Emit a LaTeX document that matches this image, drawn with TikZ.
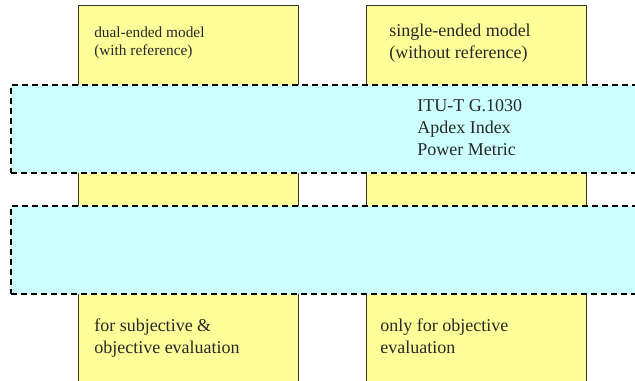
\documentclass[tikz,border=0pt]{standalone}
\usepackage{fontspec}
\setmainfont{Liberation Serif}
\definecolor{modelyellow}{RGB}{255,255,153}
\definecolor{bandcyan}{RGB}{204,255,255}
\definecolor{inkgray}{RGB}{40,40,40}
\tikzset{
  column/.style={draw=black!80, line width=1pt, fill=modelyellow, inner sep=0pt, anchor=north west},
  band/.style={draw=black, dash pattern=on 4.5pt off 3pt, line width=1.5pt, fill=bandcyan, inner sep=0pt, anchor=north west},
  bigtext/.style={anchor=base west, align=left, inner sep=0pt, text=inkgray, font=\fontsize{13.5}{16.3}\selectfont},
  smalltext/.style={anchor=base west, align=left, inner sep=0pt, text=inkgray, font=\fontsize{11.5}{13.5}\selectfont},
}
\begin{document}
\begin{tikzpicture}[x=0.75pt,y=-0.75pt]
  \useasboundingbox (0,0) rectangle (635,380);
  \clip (0,0) rectangle (635,380);
  % the two model columns
  \node[column, minimum width=165pt, minimum height=292.5pt] (dualcol) at (78,5) {};
  \node[column, minimum width=165pt, minimum height=292.5pt] (singlecol) at (366,5) {};
  % dashed bands across
  \node[band, minimum width=476pt, minimum height=66pt] (upperband) at (10,84) {};
  \node[band, minimum width=476pt, minimum height=66pt] (lowerband) at (10,205) {};
  % texts (base = last line)
  \node[smalltext] (dualtxt) at (94,55) {dual-ended model\\(with reference)};
  \node[bigtext] (singletxt) at (389,58) {single-ended model\\(without reference)};
  \node[bigtext] (metrics) at (417,155) {ITU-T G.1030\\Apdex Index\\Power Metric};
  \node[bigtext] (bothtxt) at (94,353) {for subjective \&\\objective evaluation};
  \node[bigtext] (objtxt) at (380,353) {only for objective\\evaluation};
\end{tikzpicture}
\end{document}
